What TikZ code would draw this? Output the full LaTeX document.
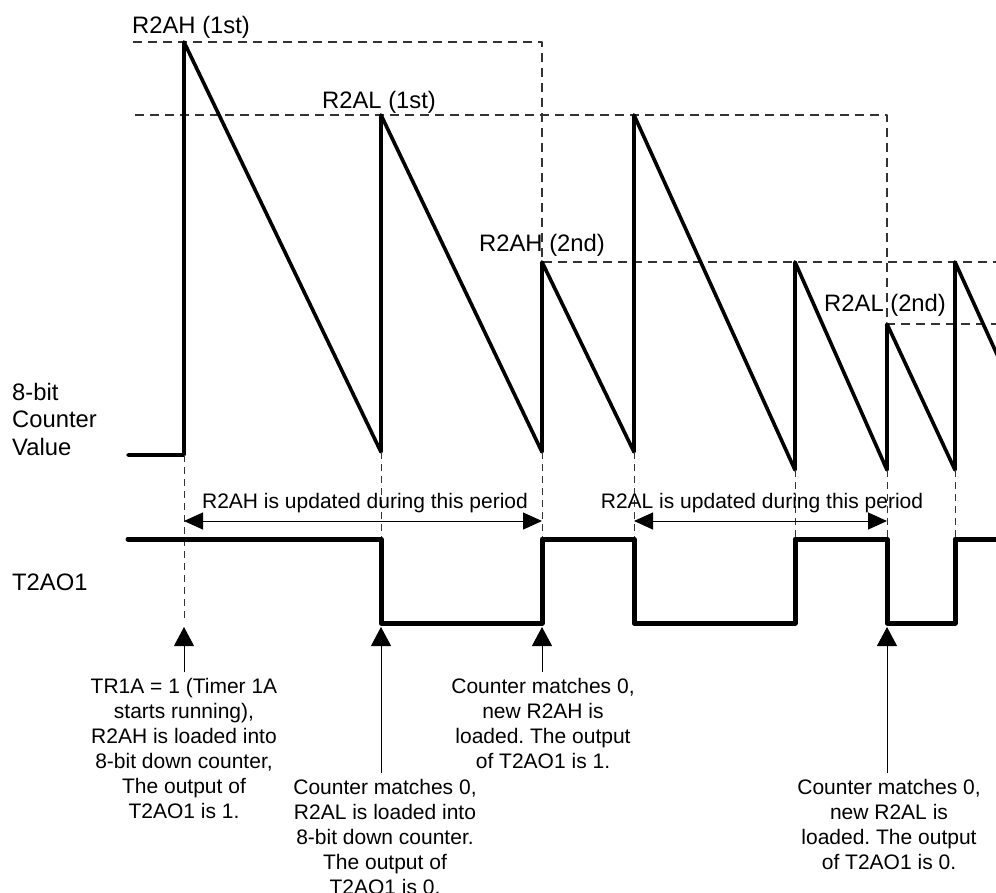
\documentclass[tikz,border=0pt]{standalone}
\usepackage{fontspec}
\setmainfont{Liberation Sans}
\usetikzlibrary{arrows.meta}
\frenchspacing

\begin{document}
\begin{tikzpicture}[x=1pt,y=-1pt,line join=round,font=\fontsize{21}{25}\selectfont,
    saw/.style={line width=3.6pt,line cap=round},
    pulse/.style={line width=5pt,line cap=round},
    guide/.style={black!80,line width=1.2pt,dash pattern=on 9pt off 6pt},
    tickline/.style={black!80,line width=1pt,dash pattern=on 7pt off 5pt},
    period/.style={{Triangle[length=19pt,width=17pt]}-{Triangle[length=19pt,width=17pt]},line width=1pt},
    event/.style={-{Triangle[length=19pt,width=20pt]},line width=1pt},
    peak/.style={anchor=base west,inner sep=0pt,font=\fontsize{23.8}{28}\selectfont},
    sig/.style={inner sep=0pt,align=left,font=\fontsize{23.8}{27.5}\selectfont},
    note/.style={align=center,inner sep=6pt}]
  \useasboundingbox (0,0) rectangle (996,892);
% ================= 8-bit counter value =================
  \def\hA{42}    % R2AH (1st)
  \def\lA{115}   % R2AL (1st)
  \def\hB{262}   % R2AH (2nd)
  \def\lB{324}   % R2AL (2nd)
  \draw[guide] (133,\hA) -| (542,\hB) -- (996,\hB);
  \draw[guide] (135,\lA) -| (887,\lB) -- (996,\lB);
  \draw[saw] (128,455) -- (184,455) -- (184,\hA) -- (381,452) -- (381,\lA)
      -- (542,452) -- (542,\hB) -- (634,452) -- (634,\lA) -- (795,470)
      -- (795,\hB) -- (887,470) -- (887,\lB) -- (955,470) -- (955,\hB) -- (1000,361);
  \node[peak] (lblHA) at (132,33)  {R2AH (1st)};
  \node[peak] (lblLA) at (322,108) {R2AL (1st)};
  \node[peak] (lblHB) at (479,251) {R2AH (2nd)};
  \node[peak] (lblLB) at (824,311) {R2AL (2nd)};
  \node[sig,anchor=north west] (cntlbl) at (12,383) {8-bit\\Counter\\Value};
% ================= update periods =================
  \draw[tickline] (184,455) -- (184,620);
  \foreach \t/\b in {381/452,542/452,634/452,795/470,887/470,955/470}
      \draw[tickline] (\t,\b) -- (\t,539);
  \coordinate (pH0) at (184,521);  \coordinate (pH1) at (542,521);
  \coordinate (pL0) at (634,521);  \coordinate (pL1) at (887,521);
  \draw[period] (pH0) -- (pH1);
  \draw[period] (pL0) -- (pL1);
  \node[anchor=base] (txtH) at (365,508) {R2AH is updated during this period};
  \node[anchor=base] (txtL) at (762,508) {R2AL is updated during this period};
% ================= T2AO1 =================
  \draw[pulse] (128,539) -- (381,539) -- (381,623) -- (542,623) -- (542,539) -- (634,539)
      -- (634,623) -- (795,623) -- (795,539) -- (887,539) -- (887,623) -- (955,623)
      -- (955,539) -- (1000,539);
  \node[sig,anchor=west] (outlbl) at (12,582) {T2AO1};
% ================= events =================
  \coordinate (evA) at (184,627);
  \coordinate (evB) at (381,627);
  \coordinate (evC) at (542,627);
  \coordinate (evF) at (887,627);
  \node[note,anchor=north] (noteA) at (184,672)
      {TR1A = 1 (Timer 1A\\starts running),\\R2AH is loaded into\\8-bit down counter,\\The output of\\T2AO1 is 1.};
  \node[note,anchor=north] (noteB) at (385,773)
      {Counter matches 0,\\R2AL is loaded into\\8-bit down counter.\\The output of\\T2AO1 is 0.};
  \node[note,anchor=north] (noteC) at (543,672)
      {Counter matches 0,\\new R2AH is\\loaded. The output\\of T2AO1 is 1.};
  \node[note,anchor=north] (noteF) at (889,773)
      {Counter matches 0,\\new R2AL is\\loaded. The output\\of T2AO1 is 0.};
  \draw[event] (noteA.north -| evA) -- (evA);
  \draw[event] (noteB.north -| evB) -- (evB);
  \draw[event] (noteC.north -| evC) -- (evC);
  \draw[event] (noteF.north -| evF) -- (evF);
\end{tikzpicture}
\end{document}
